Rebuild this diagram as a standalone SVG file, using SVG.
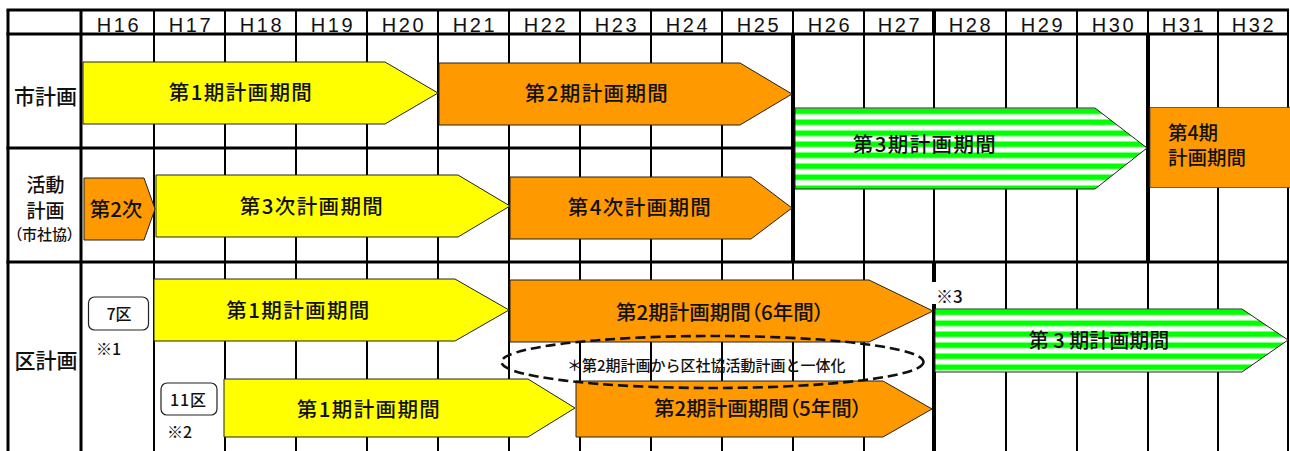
<svg xmlns="http://www.w3.org/2000/svg" width="1290" height="451" viewBox="0 0 1290 451">
<style>
.bg{fill:#fff}
.h{stroke:#000;stroke-width:3}
.v{stroke:#000;stroke-width:2}
.vt{stroke:#000;stroke-width:4}
.vm{stroke:#000;stroke-width:3}
.hd{font-family:"Liberation Sans","Noto Sans CJK JP",sans-serif;font-size:20px;letter-spacing:2.6px;text-anchor:middle;fill:#111}
.jp{font-family:"Noto Sans CJK JP","Noto Sans CJK SC",sans-serif;font-weight:500;fill:#111}
.lab{font-size:21px;text-anchor:middle}
.big{font-size:20.5px;text-anchor:middle}
.ls{letter-spacing:1.4px}
.sm{font-size:16px}
.palt{font-feature-settings:"palt"}
.yel{fill:#ffff00;stroke:#222;stroke-width:1}
.org{fill:#ff9900;stroke:#222;stroke-width:1}
.box{fill:#fff;stroke:#222;stroke-width:1.2}
</style>
<defs>
<pattern id="st1" patternUnits="userSpaceOnUse" x="0" y="108.5" width="20" height="11">
<rect width="20" height="11" fill="#fff"/><rect width="20" height="5.6" fill="#00ff00"/>
</pattern>
<pattern id="st2" patternUnits="userSpaceOnUse" x="0" y="309.5" width="20" height="11">
<rect width="20" height="11" fill="#fff"/><rect width="20" height="5.6" fill="#00ff00"/>
</pattern>
</defs>
<rect class="bg" x="0" y="0" width="1290" height="451"/>
<g id="grid">
<line class="vm" x1="81" y1="10" x2="81" y2="451"/>
<g class="v">
<line x1="154" y1="10" x2="154" y2="451"/>
<line x1="225" y1="10" x2="225" y2="451"/>
<line x1="296" y1="10" x2="296" y2="451"/>
<line x1="367" y1="10" x2="367" y2="451"/>
<line x1="438" y1="10" x2="438" y2="451"/>
<line x1="509" y1="10" x2="509" y2="451"/>
<line x1="580" y1="10" x2="580" y2="451"/>
<line x1="651" y1="10" x2="651" y2="451"/>
<line x1="722" y1="10" x2="722" y2="451"/>
<line x1="793" y1="10" x2="793" y2="34"/>
<line x1="793" y1="262" x2="793" y2="451"/>
<line x1="864" y1="10" x2="864" y2="451"/>
<line x1="934" y1="34" x2="934" y2="262"/>
<line x1="1006" y1="10" x2="1006" y2="451"/>
<line x1="1077" y1="10" x2="1077" y2="451"/>
<line x1="1148" y1="10" x2="1148" y2="34"/>
<line x1="1148" y1="262" x2="1148" y2="451"/>
<line x1="1218" y1="10" x2="1218" y2="451"/>
<line x1="1288" y1="10" x2="1288" y2="451"/>
</g>
<line class="vt" x1="934" y1="10" x2="934" y2="34"/>
<line class="vt" x1="934" y1="262" x2="934" y2="451"/>
<line class="vt" x1="793" y1="34" x2="793" y2="262"/>
<line class="vt" x1="1148" y1="34" x2="1148" y2="262"/>
<line class="vm" x1="8" y1="10" x2="8" y2="451"/>
<g class="h">
<line x1="6.5" y1="10" x2="1289" y2="10"/>
<line x1="6.5" y1="34" x2="1289" y2="34"/>
<line x1="6.5" y1="148" x2="1289" y2="148"/>
<line x1="6.5" y1="262" x2="1289" y2="262"/>
</g>
<rect class="bg" x="931" y="282" width="36" height="22"/>
</g>
<g id="header">
<text class="hd" x="119" y="31.5">H16</text>
<text class="hd" x="191" y="31.5">H17</text>
<text class="hd" x="262" y="31.5">H18</text>
<text class="hd" x="333" y="31.5">H19</text>
<text class="hd" x="404" y="31.5">H20</text>
<text class="hd" x="475" y="31.5">H21</text>
<text class="hd" x="546" y="31.5">H22</text>
<text class="hd" x="617" y="31.5">H23</text>
<text class="hd" x="688" y="31.5">H24</text>
<text class="hd" x="759" y="31.5">H25</text>
<text class="hd" x="830" y="31.5">H26</text>
<text class="hd" x="900" y="31.5">H27</text>
<text class="hd" x="971" y="31.5">H28</text>
<text class="hd" x="1043" y="31.5">H29</text>
<text class="hd" x="1114" y="31.5">H30</text>
<text class="hd" x="1184" y="31.5">H31</text>
<text class="hd" x="1254" y="31.5">H32</text>
</g>
<g id="row-labels">
<text class="jp lab" x="45.5" y="104">市計画</text>
<text class="jp" x="45.5" y="192" font-size="19" text-anchor="middle">活動</text>
<text class="jp" x="45.5" y="218" font-size="19" text-anchor="middle">計画</text>
<text class="jp palt" x="44.5" y="239.5" font-size="15" text-anchor="middle">（市社協）</text>
<text class="jp lab" x="46" y="368">区計画</text>
</g>
<g id="city-p1">
<polygon class="yel" points="83,62 385,62 438,93 385,124 83,124"/>
<text class="jp big ls" x="241" y="100">第1期計画期間</text>
</g>
<g id="city-p2">
<polygon class="org" points="439,63 740,63 792,94 740,125 439,125"/>
<text class="jp big ls" x="597" y="101">第2期計画期間</text>
</g>
<g id="city-p3">
<polygon fill="url(#st1)" stroke="#222" stroke-width="1" points="795,108 1095,108 1147,148 1095,189 795,189"/>
<text class="jp big ls" x="925" y="152">第3期計画期間</text>
</g>
<g id="city-p4">
<rect x="1150" y="107.5" width="142" height="80" fill="#ff9900" stroke="#444" stroke-width="0.8"/>
<text class="jp" font-size="19.5"><tspan x="1168" y="140">第4期</tspan><tspan x="1168" y="165">計画期間</tspan></text>
</g>
<g id="act-2">
<polygon class="org" points="84,178 144,178 155,209 144,240 84,240"/>
<text class="jp big" x="116" y="216.5">第2次</text>
</g>
<g id="act-3">
<polygon class="yel" points="156,175 458,175 510,206 458,237 156,237"/>
<text class="jp big ls" x="312" y="214">第3次計画期間</text>
</g>
<g id="act-4">
<polygon class="org" points="510,177 751,177 792,208 751,239 510,239"/>
<text class="jp big ls" x="640" y="215">第4次計画期間</text>
</g>
<g id="ward7-label">
<rect class="box" x="88.5" y="297" width="60" height="33" rx="6"/>
<text class="jp sm" x="119" y="319.5" text-anchor="middle">7区</text>
<text class="jp sm" x="96" y="355">※1</text>
</g>
<g id="ward11-label">
<rect class="box" x="161" y="383" width="56" height="32" rx="6"/>
<text class="jp sm" x="188.5" y="405.5" text-anchor="middle" letter-spacing="1">11区</text>
<text class="jp sm" x="167" y="438">※2</text>
</g>
<g id="w7-p1">
<polygon class="yel" points="154,279 455,279 509,310 455,341 154,341"/>
<text class="jp big ls" x="298.5" y="317.5">第1期計画期間</text>
</g>
<g id="w7-p2">
<polygon class="org" points="510,280 869,280 933,311 869,342 510,342"/>
<text class="jp big palt" x="720" y="319.5">第2期計画期間（6年間）</text>
</g>
<g id="w11-p1">
<polygon class="yel" points="224,379 528,379 575,408 528,437 224,437"/>
<text class="jp big ls" x="369" y="416.5">第1期計画期間</text>
</g>
<g id="w11-p2">
<polygon class="org" points="576,381 883,381 932,409 883,437 576,437"/>
<text class="jp big palt" x="758" y="416">第2期計画期間（5年間）</text>
</g>
<g id="ward-p3">
<polygon fill="url(#st2)" stroke="#222" stroke-width="1" points="935,309 1242,309 1288,340 1242,372 935,372"/>
<text class="jp" x="1099" y="347.5" font-size="20" text-anchor="middle">第 3 期計画期間</text>
<text class="jp" x="936" y="303" font-size="17">※3</text>
</g>
<g id="connectors">
<ellipse cx="712.5" cy="362" rx="211" ry="26" fill="none" stroke="#111" stroke-width="2.6" stroke-dasharray="10 5"/>
<text class="jp" x="567" y="370.5" font-size="15">＊第2期計画から区社協活動計画と一体化</text>
</g>
</svg>
